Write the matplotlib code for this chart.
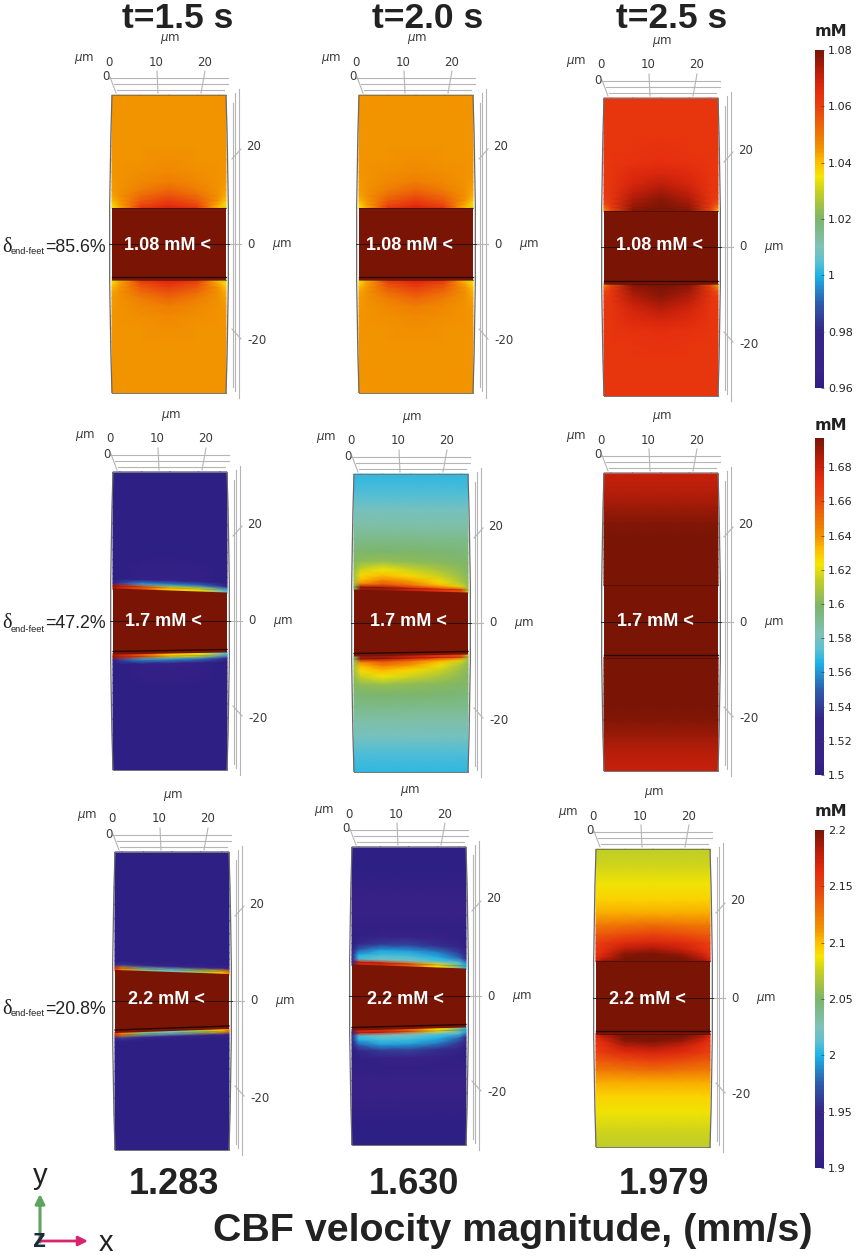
import numpy as np
import matplotlib
matplotlib.use('Agg')
import matplotlib.pyplot as plt
from matplotlib.cm import ScalarMappable
from matplotlib.colors import LinearSegmentedColormap, Normalize
from matplotlib.patches import PathPatch, Polygon
from matplotlib.path import Path

W, H = 858, 1257

# titles and labels
times = ['t=1.5 s', 't=2.0 s', 't=2.5 s']
velocities = ['1.283', '1.630', '1.979']
deltas = ['=85.6%', '=47.2%', '=20.8%']
block_labels = ['1.08 mM <', '1.7 mM <', '2.2 mM <']

# colorbars
cbar_ranges = [(0.96, 1.08), (1.5, 1.697), (1.9, 2.2)]
cbar_ticks = [[0.96, 0.98, 1.0, 1.02, 1.04, 1.06, 1.08],
              [1.5, 1.52, 1.54, 1.56, 1.58, 1.6, 1.62, 1.64, 1.66, 1.68],
              [1.9, 1.95, 2.0, 2.05, 2.1, 2.15, 2.2]]
cbar_ticklabels = [['0.96', '0.98', '1', '1.02', '1.04', '1.06', '1.08'],
                   ['1.5', '1.52', '1.54', '1.56', '1.58', '1.6', '1.62', '1.64', '1.66', '1.68'],
                   ['1.9', '1.95', '2', '2.05', '2.1', '2.15', '2.2']]

# field grid: px away from the block edge, fraction across the panel
row_offsets = [113, 95, 78, 62, 48, 36, 26, 18, 12, 7, 3, 0]
col_fracs = [0, 0.06, 0.25, 0.5, 0.75, 0.94, 1]

# concentration (mM), panel end -> block edge
r1c1 = [[1.045, 1.045, 1.045, 1.045, 1.045, 1.045, 1.045],
        [1.045, 1.045, 1.045, 1.045, 1.045, 1.045, 1.045],
        [1.045, 1.045, 1.045, 1.045, 1.045, 1.045, 1.045],
        [1.045, 1.045, 1.045, 1.045, 1.045, 1.045, 1.045],
        [1.045, 1.045, 1.045, 1.046, 1.045, 1.045, 1.045],
        [1.045, 1.045, 1.046, 1.047, 1.046, 1.045, 1.045],
        [1.044, 1.045, 1.047, 1.049, 1.047, 1.045, 1.044],
        [1.044, 1.045, 1.049, 1.053, 1.049, 1.045, 1.043],
        [1.043, 1.045, 1.052, 1.057, 1.052, 1.045, 1.042],
        [1.041, 1.044, 1.055, 1.061, 1.055, 1.044, 1.039],
        [1.037, 1.043, 1.058, 1.065, 1.058, 1.042, 1.035],
        [1.034, 1.042, 1.062, 1.068, 1.062, 1.040, 1.030]]
r1c2 = r1c1
r1c3 = [[1.063, 1.063, 1.063, 1.063, 1.063, 1.063, 1.063],
        [1.063, 1.063, 1.063, 1.063, 1.063, 1.063, 1.063],
        [1.063, 1.063, 1.063, 1.063, 1.063, 1.063, 1.063],
        [1.063, 1.063, 1.063, 1.064, 1.063, 1.063, 1.063],
        [1.063, 1.063, 1.064, 1.065, 1.064, 1.063, 1.063],
        [1.063, 1.063, 1.066, 1.068, 1.066, 1.063, 1.063],
        [1.063, 1.063, 1.068, 1.072, 1.068, 1.063, 1.063],
        [1.062, 1.063, 1.071, 1.075, 1.071, 1.063, 1.062],
        [1.061, 1.063, 1.073, 1.078, 1.073, 1.063, 1.060],
        [1.058, 1.062, 1.075, 1.079, 1.075, 1.062, 1.056],
        [1.052, 1.060, 1.077, 1.080, 1.077, 1.060, 1.048],
        [1.047, 1.058, 1.078, 1.080, 1.078, 1.058, 1.042]]
r2c1 = [[1.500, 1.500, 1.500, 1.500, 1.500, 1.500, 1.500],
        [1.500, 1.500, 1.500, 1.500, 1.500, 1.500, 1.500],
        [1.500, 1.500, 1.500, 1.500, 1.500, 1.500, 1.500],
        [1.500, 1.500, 1.500, 1.500, 1.500, 1.500, 1.500],
        [1.500, 1.500, 1.500, 1.500, 1.500, 1.500, 1.500],
        [1.500, 1.500, 1.500, 1.500, 1.500, 1.500, 1.500],
        [1.500, 1.500, 1.502, 1.503, 1.502, 1.500, 1.500],
        [1.500, 1.500, 1.504, 1.505, 1.504, 1.500, 1.500],
        [1.500, 1.500, 1.504, 1.505, 1.504, 1.500, 1.500],
        [1.500, 1.500, 1.505, 1.510, 1.505, 1.500, 1.500],
        [1.500, 1.540, 1.560, 1.560, 1.555, 1.540, 1.520],
        [1.690, 1.680, 1.660, 1.630, 1.620, 1.585, 1.570]]
r2c2 = [[1.568, 1.568, 1.568, 1.568, 1.568, 1.568, 1.568],
        [1.572, 1.572, 1.572, 1.572, 1.572, 1.572, 1.572],
        [1.580, 1.580, 1.580, 1.580, 1.580, 1.580, 1.580],
        [1.586, 1.586, 1.586, 1.586, 1.586, 1.586, 1.586],
        [1.592, 1.592, 1.592, 1.592, 1.592, 1.592, 1.592],
        [1.596, 1.597, 1.598, 1.598, 1.597, 1.596, 1.596],
        [1.600, 1.602, 1.604, 1.603, 1.601, 1.600, 1.600],
        [1.603, 1.614, 1.622, 1.616, 1.609, 1.603, 1.600],
        [1.606, 1.625, 1.632, 1.626, 1.616, 1.605, 1.602],
        [1.606, 1.632, 1.645, 1.638, 1.625, 1.610, 1.602],
        [1.606, 1.645, 1.658, 1.650, 1.635, 1.618, 1.604],
        [1.600, 1.690, 1.690, 1.680, 1.670, 1.660, 1.610]]
r2c3 = [[1.681, 1.681, 1.681, 1.681, 1.681, 1.681, 1.681],
        [1.684, 1.684, 1.684, 1.684, 1.684, 1.684, 1.684],
        [1.690, 1.690, 1.690, 1.690, 1.690, 1.690, 1.690],
        [1.695, 1.695, 1.695, 1.695, 1.695, 1.695, 1.695],
        [1.697, 1.697, 1.697, 1.697, 1.697, 1.697, 1.697],
        [1.697, 1.697, 1.697, 1.697, 1.697, 1.697, 1.697],
        [1.697, 1.697, 1.697, 1.697, 1.697, 1.697, 1.697],
        [1.697, 1.697, 1.697, 1.697, 1.697, 1.697, 1.697],
        [1.697, 1.697, 1.697, 1.697, 1.697, 1.697, 1.697],
        [1.697, 1.697, 1.697, 1.697, 1.697, 1.697, 1.697],
        [1.697, 1.697, 1.697, 1.697, 1.697, 1.697, 1.697],
        [1.697, 1.697, 1.697, 1.697, 1.697, 1.697, 1.697]]
r3c1 = [[1.900, 1.900, 1.900, 1.900, 1.900, 1.900, 1.900],
        [1.900, 1.900, 1.900, 1.900, 1.900, 1.900, 1.900],
        [1.900, 1.900, 1.900, 1.900, 1.900, 1.900, 1.900],
        [1.900, 1.900, 1.900, 1.900, 1.900, 1.900, 1.900],
        [1.900, 1.900, 1.900, 1.900, 1.900, 1.900, 1.900],
        [1.900, 1.900, 1.900, 1.900, 1.900, 1.900, 1.900],
        [1.900, 1.900, 1.900, 1.900, 1.900, 1.900, 1.900],
        [1.900, 1.900, 1.900, 1.900, 1.900, 1.900, 1.900],
        [1.900, 1.900, 1.900, 1.900, 1.900, 1.900, 1.900],
        [1.900, 1.900, 1.900, 1.900, 1.900, 1.900, 1.900],
        [1.950, 1.960, 1.940, 1.930, 1.930, 1.930, 1.920],
        [2.160, 2.120, 2.040, 2.020, 2.060, 2.100, 2.120]]
r3c2 = [[1.900, 1.900, 1.900, 1.900, 1.900, 1.900, 1.900],
        [1.900, 1.900, 1.900, 1.900, 1.900, 1.900, 1.900],
        [1.905, 1.905, 1.905, 1.905, 1.905, 1.905, 1.905],
        [1.912, 1.912, 1.912, 1.912, 1.912, 1.912, 1.912],
        [1.912, 1.912, 1.912, 1.912, 1.912, 1.912, 1.912],
        [1.905, 1.905, 1.905, 1.905, 1.905, 1.905, 1.905],
        [1.900, 1.905, 1.912, 1.915, 1.912, 1.905, 1.900],
        [1.900, 1.940, 1.960, 1.965, 1.955, 1.930, 1.900],
        [1.905, 1.975, 1.995, 1.995, 1.985, 1.960, 1.915],
        [1.910, 2.000, 2.010, 2.010, 2.000, 1.980, 1.930],
        [1.920, 2.010, 2.020, 2.020, 2.015, 2.010, 1.985],
        [1.930, 2.170, 2.170, 2.140, 2.090, 2.040, 2.000]]
r3c3 = [[2.072, 2.072, 2.072, 2.072, 2.072, 2.072, 2.072],
        [2.078, 2.078, 2.078, 2.078, 2.078, 2.078, 2.078],
        [2.086, 2.086, 2.086, 2.086, 2.086, 2.086, 2.086],
        [2.094, 2.094, 2.094, 2.094, 2.094, 2.094, 2.094],
        [2.106, 2.106, 2.106, 2.106, 2.106, 2.106, 2.106],
        [2.125, 2.125, 2.127, 2.130, 2.127, 2.125, 2.125],
        [2.140, 2.140, 2.145, 2.150, 2.145, 2.140, 2.140],
        [2.150, 2.155, 2.165, 2.170, 2.165, 2.155, 2.150],
        [2.155, 2.160, 2.180, 2.185, 2.175, 2.160, 2.155],
        [2.160, 2.165, 2.195, 2.200, 2.190, 2.170, 2.160],
        [2.165, 2.175, 2.200, 2.200, 2.200, 2.180, 2.165],
        [2.170, 2.190, 2.200, 2.200, 2.200, 2.190, 2.170]]
fields = [[r1c1, r1c2, r1c3], [r2c1, r2c2, r2c3], [r3c1, r3c2, r3c3]]

# layout, all in image pixels
panel_x = [[112, 359, 604], [113, 354, 604], [115, 352, 596]]
panel_y = [[95, 95, 98], [472, 474, 473], [852, 847, 849]]
panel_w, panel_h = 114, 298
# block edges: top left, top right, bottom left, bottom right
block_edges = [[(208, 208, 280, 280), (208, 208, 280, 280), (211, 211, 284, 284)],
               [(586, 590, 657, 655), (587, 590, 659, 657), (585, 585, 658, 658)],
               [(968, 972, 1035, 1031), (962, 966, 1033, 1030), (961, 961, 1034, 1034)]]
# thin coloured band along the block edge, px
edge_band = [[0, 0, 0], [2.5, 2.5, 0], [2, 2.5, 0]]
label_x = [[168, 410, 660], [163, 408, 655], [166, 405, 647]]
label_y = [245, 622, 1000]
cbar_boxes = [(50, 388), (438, 775), (830, 1168)]
cbar_unit_y = [31, 426, 812]
title_x = [178, 428, 672]
velocity_x = [174, 414, 664]
delta_y = [245, 622, 1007]

cmap = LinearSegmentedColormap.from_list('comsol', [
    (0.0, '#2E1F84'), (0.05, '#3A2288'), (0.167, '#35278A'), (0.25, '#2E5CAB'),
    (0.333, '#1CB4E8'), (0.375, '#5EC0D0'), (0.417, '#7FC2B8'), (0.5, '#7CB56A'),
    (0.583, '#C8D020'), (0.625, '#F5E600'), (0.667, '#FFC000'), (0.708, '#F29400'),
    (0.833, '#E8400F'), (0.875, '#E62E0E'), (0.92, '#C8200C'), (1.0, '#7A1505')])

plt.rcParams['font.family'] = 'DejaVu Sans'
AXC = '#3a3a3a'
GREY = '#b5b5b5'
MU = r'$\mu$m'

fig = plt.figure(figsize=(W / 100, H / 100), dpi=100, facecolor='white')
ax = fig.add_axes([0, 0, 1, 1])
ax.set_xlim(0, W)
ax.set_ylim(H, 0)
ax.axis('off')


def draw_field(x0, y0, edges, vals, norm, band):
    tl, tr, bl, br = edges
    # last row repeated under the block so the edge colour stays as a band
    vals = np.vstack([np.array(vals), np.array(vals)[-1]])
    xs = x0 + np.array(col_fracs) * panel_w
    offs = np.array(row_offsets + [-band - 1]) / row_offsets[0]
    y1 = y0 + panel_h
    X, O = np.meshgrid(xs, offs)
    F = np.array(col_fracs)
    top_edge = tl + (tr - tl) * F
    bot_edge = bl + (br - bl) * F
    ax.pcolormesh(X, top_edge - O * (top_edge - y0), vals, shading='gouraud', cmap=cmap, norm=norm, zorder=1)
    ax.pcolormesh(X, bot_edge + O * (y1 - bot_edge), vals, shading='gouraud', cmap=cmap, norm=norm, zorder=1)
    ax.add_patch(Polygon([(x0, tl + band), (x0 + panel_w, tr + band), (x0 + panel_w, br - band), (x0, bl - band)],
                         closed=True, fc=cmap(1.0), ec='none', zorder=2))
    # dark outlines on the block
    ax.plot([x0, x0 + panel_w], [tl, tr], color='#2a0a05', lw=0.6, alpha=0.6 if band == 0 else 0.25, zorder=3)
    ax.plot([x0, x0 + panel_w], [bl - 3 - band, br - 3 - band], color='#1a0505', lw=1.0, alpha=0.85, zorder=3)
    ax.plot([x0, x0 + panel_w], [bl, br], color='#2a0a05', lw=0.6, alpha=0.6 if band == 0 else 0.25, zorder=3)


def draw_frame(x0, y0):
    y1 = y0 + panel_h
    xr = x0 + panel_w
    # curved sides of the cylinder
    for xa, bulge in ((x0, -5), (xr, 5)):
        p = Path([(xa, y0), (xa + bulge, (y0 + y1) / 2), (xa, y1)], [Path.MOVETO, Path.CURVE3, Path.CURVE3])
        ax.add_patch(PathPatch(p, fc='none', ec='#6a6a6a', lw=0.9, zorder=4))
    ax.plot([x0, xr], [y0, y0], color='#777777', lw=0.7, zorder=4)
    ax.plot([x0, xr], [y1, y1], color='#777777', lw=0.7, zorder=4)
    # grey box lines above and right of the panel
    for dy, a, b in ((-17, -3, 116), (-11, 2, 116), (-5, 5, 112)):
        ax.plot([x0 + a, x0 + b], [y0 + dy, y0 + dy], color=GREY, lw=0.8, zorder=1)
    for a, b, c, d in ((-2, -18, 4, -2), (45, -24, 46, -2), (93, -24, 89, -2)):
        ax.plot([x0 + a, x0 + c], [y0 + b, y0 + d], color=GREY, lw=0.8, zorder=1)
    for dx, a, b in ((121, 8, 292), (123, -2, 296), (127, -6, 303)):
        ax.plot([x0 + dx, x0 + dx], [y0 + a, y0 + b], color=GREY, lw=0.8, zorder=1)
    for a, b, c, d in ((129, 54, 120, 64), (129, 244, 120, 234), (116, 149, 129, 149)):
        ax.plot([x0 + a, x0 + c], [y0 + b, y0 + d], color=GREY, lw=0.8, zorder=1)
    ax.plot([x0 - 3, x0 + 117], [y0 + 149, y0 + 149], color='#111111', lw=0.7, alpha=0.8, zorder=5)
    # axis numbers
    for dx, t in ((-3, '0'), (44, '10'), (93, '20')):
        ax.text(x0 + dx, y0 - 33, t, fontsize=8.5, color=AXC, ha='center', va='center')
    ax.text(x0 - 6, y0 - 18, '0', fontsize=8.5, color=AXC, ha='center', va='center')
    ax.text(x0 + 142, y0 + 52, '20', fontsize=8.5, color=AXC, ha='center', va='center')
    ax.text(x0 + 139, y0 + 149, '0', fontsize=8.5, color=AXC, ha='center', va='center')
    ax.text(x0 + 145, y0 + 246, '-20', fontsize=8.5, color=AXC, ha='center', va='center')
    ax.text(x0 + 58, y0 - 56, MU, fontsize=8.5, color=AXC, ha='center', va='center')
    ax.text(x0 - 28, y0 - 36, MU, fontsize=8.5, color=AXC, ha='center', va='center')
    ax.text(x0 + 170, y0 + 150, MU, fontsize=8.5, color=AXC, ha='center', va='center')


for r in range(3):
    vmin, vmax = cbar_ranges[r]
    norm = Normalize(vmin, vmax)
    for c in range(3):
        x0, y0 = panel_x[r][c], panel_y[r][c]
        draw_frame(x0, y0)
        draw_field(x0, y0, block_edges[r][c], fields[r][c], norm, edge_band[r][c])
        ax.text(label_x[r][c], label_y[r], block_labels[r], color='white', fontsize=13, fontweight='bold',
                family='Liberation Sans', ha='center', va='center', zorder=6)

    # delta label on the left of each row
    base = delta_y[r] + 6.5
    ax.text(2, base, 'δ', fontsize=14.5, family='Liberation Serif', color='#222222', va='baseline')
    ax.text(11, base + 3, 'end-feet', fontsize=6.7, family='Liberation Sans', color='#222222', va='baseline')
    ax.text(45, base, deltas[r], fontsize=12.8, family='Liberation Sans', color='#222222', va='baseline')

    # colorbar
    y_top, y_bot = cbar_boxes[r]
    cax = fig.add_axes([815 / W, 1 - y_bot / H, 9 / W, (y_bot - y_top) / H])
    cb = fig.colorbar(ScalarMappable(norm=norm, cmap=cmap), cax=cax, ticks=cbar_ticks[r])
    cb.ax.set_yticklabels(cbar_ticklabels[r])
    cb.ax.tick_params(length=2, width=0.5, pad=3, labelsize=8, labelcolor='#222222', direction='in', color='#444444')
    cb.outline.set_visible(False)
    ax.text(831, cbar_unit_y[r], 'mM', fontsize=11.5, fontweight='bold', color='#222222', ha='center', va='center')

for i in range(3):
    ax.text(title_x[i], 18, times[i], fontsize=25.5, fontweight='bold', family='Liberation Sans',
            color='#222222', ha='center', va='center')
    ax.text(velocity_x[i], 1184, velocities[i], fontsize=26, fontweight='bold', family='Liberation Sans',
            color='#222222', ha='center', va='center')

ax.text(513, 1231, 'CBF velocity magnitude, (mm/s)', fontsize=28.4, fontweight='bold',
        family='Liberation Sans', color='#222222', ha='center', va='center')

# coordinate triad
ax.annotate('', xy=(40, 1194), xytext=(40, 1242), arrowprops=dict(arrowstyle='-|>', color='#5FA35F', lw=2.2, mutation_scale=14, shrinkA=0, shrinkB=0))
ax.annotate('', xy=(88, 1241), xytext=(40, 1241), arrowprops=dict(arrowstyle='-|>', color='#D6246E', lw=2.0, mutation_scale=14, shrinkA=0, shrinkB=0))
ax.text(40, 1176, 'y', fontsize=21, family='Liberation Sans', color='#222222', ha='center', va='center')
ax.text(106, 1243, 'x', fontsize=21, family='Liberation Sans', color='#222222', ha='center', va='center')
ax.text(40, 1240, 'z', fontsize=19, family='Liberation Sans', fontweight='bold', color='#1c2a3a', ha='center', va='center', zorder=6)

fig.savefig('out.png', dpi=100)
